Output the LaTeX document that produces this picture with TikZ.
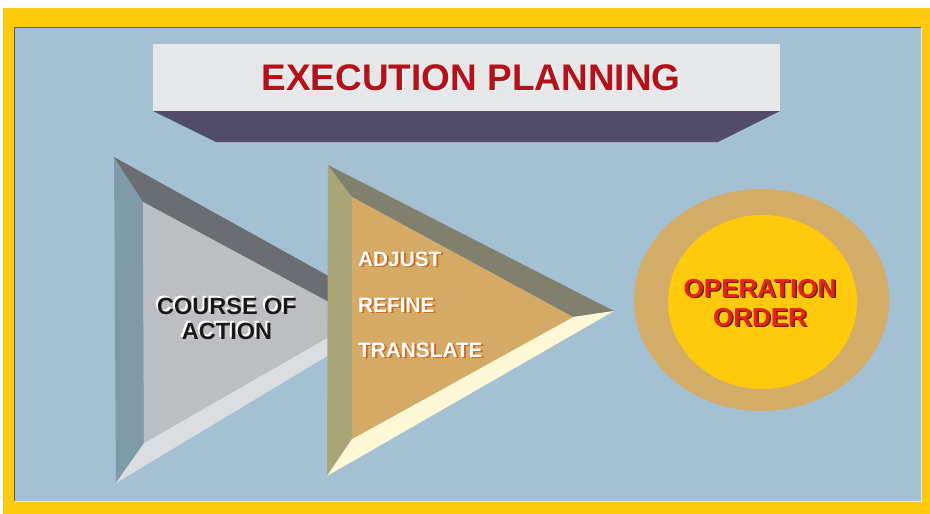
\documentclass[tikz,border=0pt]{standalone}
\usepackage{fontspec}
\setmainfont{Liberation Sans}
\definecolor{frameY}{HTML}{FFC90C}
\definecolor{bgblue}{HTML}{A3C1D3}
\definecolor{darkedge}{HTML}{5E5C48}
\definecolor{lightedge}{HTML}{E8EAEC}
\definecolor{titlegray}{HTML}{E6E7E9}
\definecolor{titleshade}{HTML}{524C6B}
\definecolor{titlered}{HTML}{B3121B}
\definecolor{gLeft}{HTML}{7F9AA8}
\definecolor{gTop}{HTML}{6B6D72}
\definecolor{gFace}{HTML}{BDBEC2}
\definecolor{gBot}{HTML}{DCDDE0}
\definecolor{oLeft}{HTML}{A8A677}
\definecolor{oTop}{HTML}{817F6D}
\definecolor{oFace}{HTML}{D4AA66}
\definecolor{oBot}{HTML}{FFF8D6}
\definecolor{orangeshadow}{HTML}{D2691E}
\definecolor{ringtan}{HTML}{D3AC68}
\definecolor{coreyellow}{HTML}{FFC90C}
\definecolor{oored}{HTML}{E8221B}
\definecolor{ooshadow}{HTML}{5A2A10}
\begin{document}
\begin{tikzpicture}[x=1pt,y=-1pt,
  lbl/.style={inner sep=0pt, anchor=base, font=\bfseries},
  titletxt/.style={lbl, font=\fontsize{37}{40}\selectfont\bfseries},
  coatxt/.style={lbl, align=center, font=\fontsize{23.5}{25}\selectfont\bfseries},
  steptxt/.style={inner sep=0pt, anchor=base west, font=\fontsize{20.8}{24}\selectfont\bfseries},
  ootxt/.style={lbl, align=center, font=\fontsize{26}{29}\selectfont\bfseries}]
\useasboundingbox (0,0) rectangle (930,514);
\fill[white] (0,0) rectangle (930,514);
\fill[frameY] (3,8) rectangle (930,514);
\fill[bgblue] (14,27) rectangle (921,501);
\draw[darkedge, line width=1.5pt] (14.5,501) -- (14.5,27.5) -- (921,27.5);
\draw[lightedge, line width=1pt] (921,27.5) -- (921,501) -- (14.5,501);
% title
\fill[titlegray] (153,44) rectangle (780,111);
\fill[titleshade] (153,111) -- (780,111) -- (718,142) -- (216,142) -- cycle;
\node[titletxt, white] (titleS) at (472.5,91) {EXECUTION PLANNING};
\node[titletxt, titlered] (title) at (471,90) {EXECUTION PLANNING};
% left triangle
\coordinate (A) at (114,157); \coordinate (B) at (116,483); \coordinate (C) at (397,314);
\coordinate (a) at (143,202); \coordinate (b) at (144,443); \coordinate (c) at (360,319);
\fill[gLeft] (A) -- (a) -- (b) -- (B) -- cycle;
\fill[gTop] (A) -- (C) -- (c) -- (a) -- cycle;
\fill[gBot] (B) -- (b) -- (c) -- (C) -- cycle;
\fill[gFace] (a) -- (b) -- (c) -- cycle;
\node[coatxt, white] (coaS) at (225,337) {COURSE OF\\ACTION};
\node[coatxt, black!90] (coa) at (227,339) {COURSE OF\\ACTION};
% orange triangle
\coordinate (P) at (328,165); \coordinate (Q) at (327,476); \coordinate (R) at (614,311);
\coordinate (p) at (352,197); \coordinate (q) at (352,439); \coordinate (r) at (573,317);
\fill[oLeft] (P) -- (p) -- (q) -- (Q) -- cycle;
\fill[oTop] (P) -- (R) -- (r) -- (p) -- cycle;
\fill[oBot] (Q) -- (q) -- (r) -- (R) -- cycle;
\fill[oFace] (p) -- (q) -- (r) -- cycle;
\node[steptxt, orangeshadow] (adjS) at (360,267.5) {ADJUST};
\node[steptxt, white] (adj) at (358,266) {ADJUST};
\node[steptxt, orangeshadow] (refS) at (360,313.5) {REFINE};
\node[steptxt, white] (ref) at (358,312) {REFINE};
\node[steptxt, orangeshadow] (traS) at (360,358.5) {TRANSLATE};
\node[steptxt, white] (tra) at (358,357) {TRANSLATE};
% ellipse
\fill[ringtan] (761.5,300) ellipse [x radius=127.5, y radius=111];
\fill[coreyellow] (762.5,302) ellipse [x radius=94.5, y radius=87];
\node[ootxt, ooshadow] (ooS) at (761.5,327.5) {OPERATION\\ORDER};
\node[ootxt, oored] (oo) at (760,326) {OPERATION\\ORDER};
\end{tikzpicture}
\end{document}
